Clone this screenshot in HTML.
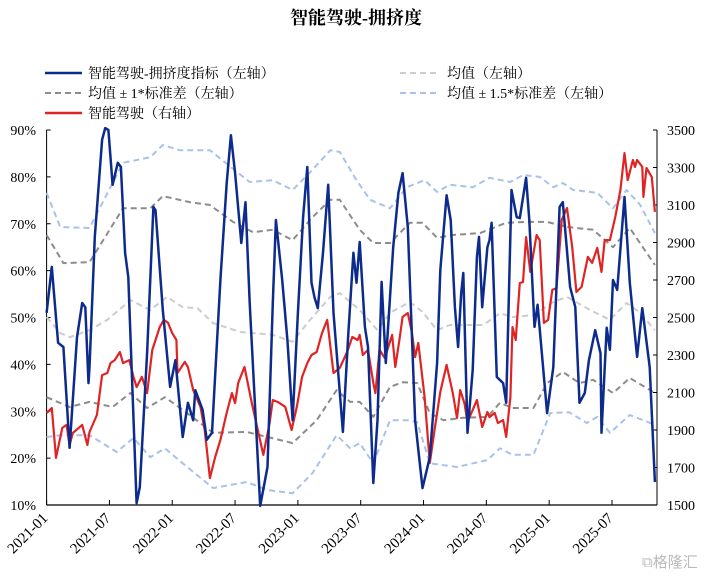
<!DOCTYPE html>
<html><head><meta charset="utf-8"><style>
body{margin:0;background:#fff;}
svg{display:block;font-family:"Liberation Serif","Noto Serif CJK SC",serif;}
</style></head><body>
<svg id="chart" width="712" height="578" viewBox="0 0 712 578" xmlns="http://www.w3.org/2000/svg">
<text x="356" y="24" text-anchor="middle" font-size="18" font-weight="bold" font-family="'Liberation Serif','Noto Serif CJK SC',serif">智能驾驶-拥挤度</text>
<g font-size="14" font-family="'Liberation Serif','Noto Serif CJK SC',serif">
<g><line x1="45" y1="73" x2="82" y2="73" stroke="#0d2b8c" stroke-width="2.5"/><text x="88" y="78">智能驾驶-拥挤度指标（左轴）</text></g>
<g><line x1="400" y1="73" x2="440" y2="73" stroke="#cccccc" stroke-width="2" stroke-dasharray="6,4"/><text x="447" y="78">均值（左轴）</text></g>
<g><line x1="45" y1="93" x2="82" y2="93" stroke="#8c8c8c" stroke-width="2" stroke-dasharray="6,4"/><text x="88" y="98">均值 ± 1*标准差（左轴）</text></g>
<g><line x1="400" y1="93" x2="440" y2="93" stroke="#a9c2e9" stroke-width="2" stroke-dasharray="6,4"/><text x="447" y="98">均值 ± 1.5*标准差（左轴）</text></g>
<g><line x1="45" y1="113" x2="82" y2="113" stroke="#e02424" stroke-width="2.5"/><text x="88" y="118">智能驾驶（右轴）</text></g>
</g>
<g id="axes"></g>
<g id="series"></g>
<text x="642" y="567" font-size="15" fill="#bbb" font-family="'Liberation Sans','Noto Sans CJK SC',sans-serif">⧉格隆汇</text>
</svg>
<script>
const xLabels=["2021-01","2021-07","2022-01","2022-07","2023-01","2023-07","2024-01","2024-07","2025-01","2025-07"];
const leftTicks=[10,20,30,40,50,60,70,80,90];
const rightTicks=[1500,1700,1900,2100,2300,2500,2700,2900,3100,3300,3500];
// t = months since 2021-01
const crowdT=[0,0.5,1.1,1.6,2.2,2.9,3.4,3.7,4.0,4.1,4.6,5.3,5.6,5.9,6.3,6.8,7.1,7.5,7.8,8.6,8.9,9.6,10.2,10.4,11.1,11.8,12.3,13.0,13.5,14.0,14.2,14.9,15.3,15.8,16.6,17.2,17.6,18.0,18.6,19.0,19.4,20.4,21.1,21.6,21.9,22.5,23.0,23.5,24.0,24.5,24.9,25.3,25.6,25.9,26.4,26.9,27.4,28.3,28.8,29.3,29.6,29.9,30.4,30.7,31.2,31.6,32.0,32.4,33.1,33.6,34.0,34.5,35.2,35.9,36.6,37.3,37.6,38.2,38.6,39.0,39.3,39.6,39.8,40.2,40.7,41.1,41.3,41.6,42.1,42.3,42.5,43.0,43.6,43.9,44.4,44.9,45.2,45.8,46.1,46.6,46.9,47.8,48.4,49.0,49.3,50.0,50.5,50.9,51.4,51.8,52.4,52.9,53.0,53.5,53.8,54.1,54.5,55.2,55.7,56.4,56.9,57.6,58.1];
const crowdV=[51.0,60.8,44.6,43.7,22.2,45.8,53.1,52.2,36.0,39.4,67.2,87.9,90.4,90,78.3,83.0,82.1,63.8,58.6,10.4,13.8,42.4,73.6,72.9,51.6,35.2,40.9,24.5,31.8,28.1,34.5,30.3,23.9,25.4,58.0,78.7,88.9,80.8,65.9,74.6,53.1,9.8,18.1,53.1,70.8,58.0,45.2,28.1,51.0,71.4,82.1,57.4,54.2,52.0,63.8,78.3,51.0,25.6,45.8,63.8,57.4,66.1,48.0,43.7,14.7,28.1,57.6,40.3,65.0,76.6,80.8,69.3,28.1,13.6,20.2,40.3,60.1,76.1,70.8,52.2,43.7,55.2,59.5,25.4,38.8,62.9,67.2,52.2,65.0,66.5,70.2,37.3,36.0,31.8,77.2,71.4,71.2,79.8,70.8,48.0,52.7,29.6,39.4,73.6,74.6,56.5,52.2,31.8,33.9,40.9,47.3,42.4,25.4,47.8,43.1,58.0,55.9,75.7,57.4,41.6,52.0,39.4,14.9];
const meanT=[0,1.3,2.2,4.1,5.8,8.0,9.9,11.5,13.0,14.4,15.9,18.5,21.6,23.5,24.9,27.1,28.0,29.9,31.6,32.8,34.7,35.9,37.3,38.5,41.7,43.3,44.5,46.5,48.4,49.7,51.9,53.8,55.4,56.7,58.1];
const meanV=[50.1,46.7,45.8,47.3,49.5,53.7,51.6,54.4,52.2,52,48.8,46.9,46.3,44.8,48.8,54.4,55.2,51.6,47.3,51,53.3,51.2,47.3,48.4,48.4,50.9,50.1,50.5,53.3,54.4,51.6,49.5,53.1,51,47.3];
const up1T=[0,1.6,4.1,7.3,9.9,11.1,13.7,15.6,17.8,19.7,21.6,23.5,25.4,27.1,28.0,29.9,31.2,32.8,34.7,35.9,37.3,38.8,41.4,43.9,45.9,47.8,49.7,52.2,54.1,55.7,58.1];
const up1V=[67.6,61.6,61.8,73.3,73.3,75.9,74.6,74,70.4,68.2,68.7,66.5,71.4,75.1,75.1,68.7,65.9,65.9,70.2,70.2,67,67.6,68,70.2,70.4,70.4,69.3,68.7,65,69.1,61.2];
const lo1T=[0,2.2,4.1,6.3,8.0,9.6,11.3,13.0,15.9,19.1,21.1,23.5,25.8,27.7,29.0,29.9,31.2,32.8,34.0,35.4,36.6,37.9,39.8,42.1,43.3,44.5,46.5,47.8,49.3,50.9,52.2,54.1,55.7,58.1];
const lo1V=[33,30.9,32,30.9,33.9,30.7,33,30.3,25.4,25.6,24.5,23.2,28.1,34.5,32,32,28.8,35.2,36.2,36,29.6,28.1,28.6,28.8,31.8,30.7,30.7,36,38.4,36,36.7,33.9,37.1,33.9];
const up15T=[0,1.3,4.1,7.3,9.9,11.1,12.7,15.6,18.2,19.4,21.6,23.5,25.4,27.1,28.0,29.6,30.9,32.8,34.4,36.1,37.3,38.5,40.7,42.3,44.3,45.5,47.1,48.4,49.3,50.3,52.6,54.1,55.4,56.7,58.1];
const up15V=[76.6,69.3,69.1,83,84.2,86.8,85.7,85.7,81,78.9,79.3,77.2,81.5,85.7,85.3,79.3,75.1,73.3,77.8,79.3,76.8,78.3,77.8,79.8,78.9,80.4,80,77.8,78.7,77.2,76.6,73.3,77.2,74,68];
const lo15T=[0,1.3,4.1,6.7,8.3,9.9,11.3,13.0,15.9,19.1,21.1,23.5,25.4,27.7,29.0,29.9,31.2,32.8,34.4,35.4,36.6,39.2,42.1,43.3,44.5,46.5,48.1,49.9,51.6,52.6,53.8,55.7,58.1];
const lo15V=[24.5,24.9,24.9,21.3,24.3,20.2,22.1,18.9,13.6,14.9,13.2,12.5,16.8,24.9,22.1,23.2,18.9,28.1,28.1,27.7,18.9,18.1,19.6,22.1,20.7,20.7,29.6,29.8,27.5,28.8,25.4,29.2,27.1];
const idxT=[0,0.5,0.9,1.5,1.9,2.2,2.5,3.4,3.9,4.1,4.8,5.3,5.8,6.1,6.5,7.0,7.3,7.9,8.3,8.6,9.1,9.6,10.1,10.5,10.8,11.2,11.6,12.0,12.4,12.5,13.2,13.5,14.0,14.7,15.1,15.6,16.1,16.6,17.2,17.7,18.0,18.3,18.9,19.6,20.7,21.3,21.6,22.1,22.8,23.4,23.9,24.4,24.9,25.3,25.8,26.3,26.8,27.4,28.0,28.7,29.2,29.7,29.9,30.2,30.7,31.2,31.4,31.8,32.3,33.0,33.3,33.7,34.0,34.5,34.9,35.2,35.5,36.1,36.6,37.1,37.6,38.2,38.8,39.2,39.5,39.9,40.2,40.7,41.1,41.6,42.1,42.3,42.8,43.1,43.6,43.9,44.3,44.5,44.8,45.2,45.5,45.8,46.2,46.8,47.1,47.5,47.9,48.3,48.7,49.2,49.7,50.2,50.6,51.1,51.7,52.1,52.6,53.0,53.3,53.8,54.3,54.8,55.2,55.5,56.0,56.2,56.4,56.9,57.0,57.3,57.8,58.1];
const idxV=[1991,2017,1751,1911,1927,1820,1884,1927,1820,1889,1980,2193,2204,2257,2273,2316,2257,2273,2183,2129,2183,2097,2327,2396,2449,2487,2471,2417,2380,2204,2263,2236,2113,2023,1900,1644,1756,1847,1991,2097,2044,2151,2236,2044,1767,1937,2060,2049,2023,1900,2023,2183,2257,2300,2316,2417,2487,2204,2231,2316,2396,2380,2407,2300,2327,2151,2097,2327,2284,2407,2236,2380,2503,2524,2417,2289,2364,2076,1724,1916,2103,2247,2097,1964,2113,2044,1943,2007,2060,1916,1996,1969,1991,1937,1953,1863,2076,2449,2380,2684,2689,2929,2743,2940,2913,2471,2487,2647,2657,3020,3084,2876,2636,2663,2823,2791,2871,2743,2913,2913,3031,3180,3377,3233,3340,3303,3340,3303,3143,3297,3249,3063];

const NS="http://www.w3.org/2000/svg";
const X0=46.6, MW=10.47, Y0=505, Y1=130, XR=657;
const xs=t=>X0+t*MW;
const yl=v=>Y0-(v-10)*(Y0-Y1)/80;
const yr=v=>Y0-(v-1500)*(Y0-Y1)/2000;
function mk(tag,attrs,parent){const e=document.createElementNS(NS,tag);for(const k in attrs)e.setAttribute(k,attrs[k]);parent.appendChild(e);return e;}
const axes=document.getElementById('axes'), ser=document.getElementById('series');
let a=mk('line',{x1:X0,y1:Y0,x2:XR,y2:Y0,stroke:'#000','stroke-width':1.2},axes);


a=mk('line',{x1:X0,y1:Y1,x2:X0,y2:Y0,stroke:'#000','stroke-width':1},axes);


a=mk('line',{x1:XR,y1:Y1,x2:XR,y2:Y0,stroke:'#000','stroke-width':1},axes);


leftTicks.forEach(v=>{const y=yl(v);
 mk('line',{x1:X0,y1:y,x2:X0+4,y2:y,stroke:'#000'},axes);
 const t=mk('text',{x:36,y:y+5,'text-anchor':'end','font-size':14},axes);t.textContent=v+'%';
 
 });
rightTicks.forEach(v=>{const y=yr(v);
 mk('line',{x1:XR-4,y1:y,x2:XR,y2:y,stroke:'#000'},axes);
 const t=mk('text',{x:667,y:y+5,'font-size':14},axes);t.textContent=v;
 
 });
xLabels.forEach((s,i)=>{const x=xs(i*6);
 mk('line',{x1:x,y1:Y0,x2:x,y2:Y0-5,stroke:'#000'},axes);
 const t=mk('text',{x:x+2,y:Y0+14,'text-anchor':'end','font-size':15,transform:`rotate(-45 ${x+2} ${Y0+14})`},axes);t.textContent=s;
 
 });
function line(T,V,yf,color,w,dash,name){
 const d=T.map((t,i)=>(i?'L':'M')+xs(t).toFixed(1)+','+yf(V[i]).toFixed(1)).join('');
 const p=mk('path',{d:d,fill:'none',stroke:color,'stroke-width':w,'stroke-linejoin':'round'},ser);
 if(dash)p.setAttribute('stroke-dasharray',dash);
 
 }
line(up15T,up15V,yl,'#a9c2e9',2,'6,4','upper-1-5sd-line');
line(lo15T,lo15V,yl,'#a9c2e9',2,'6,4','lower-1-5sd-line');
line(up1T,up1V,yl,'#8c8c8c',2,'6,4','upper-1sd-line');
line(lo1T,lo1V,yl,'#8c8c8c',2,'6,4','lower-1sd-line');
line(meanT,meanV,yl,'#cccccc',2,'6,4','mean-line');
line(idxT,idxV,yr,'#e02424',2.2,null,'index-line');
line(crowdT,crowdV,yl,'#0d2b8c',2.5,null,'crowding-line');
</script>
</body></html>
